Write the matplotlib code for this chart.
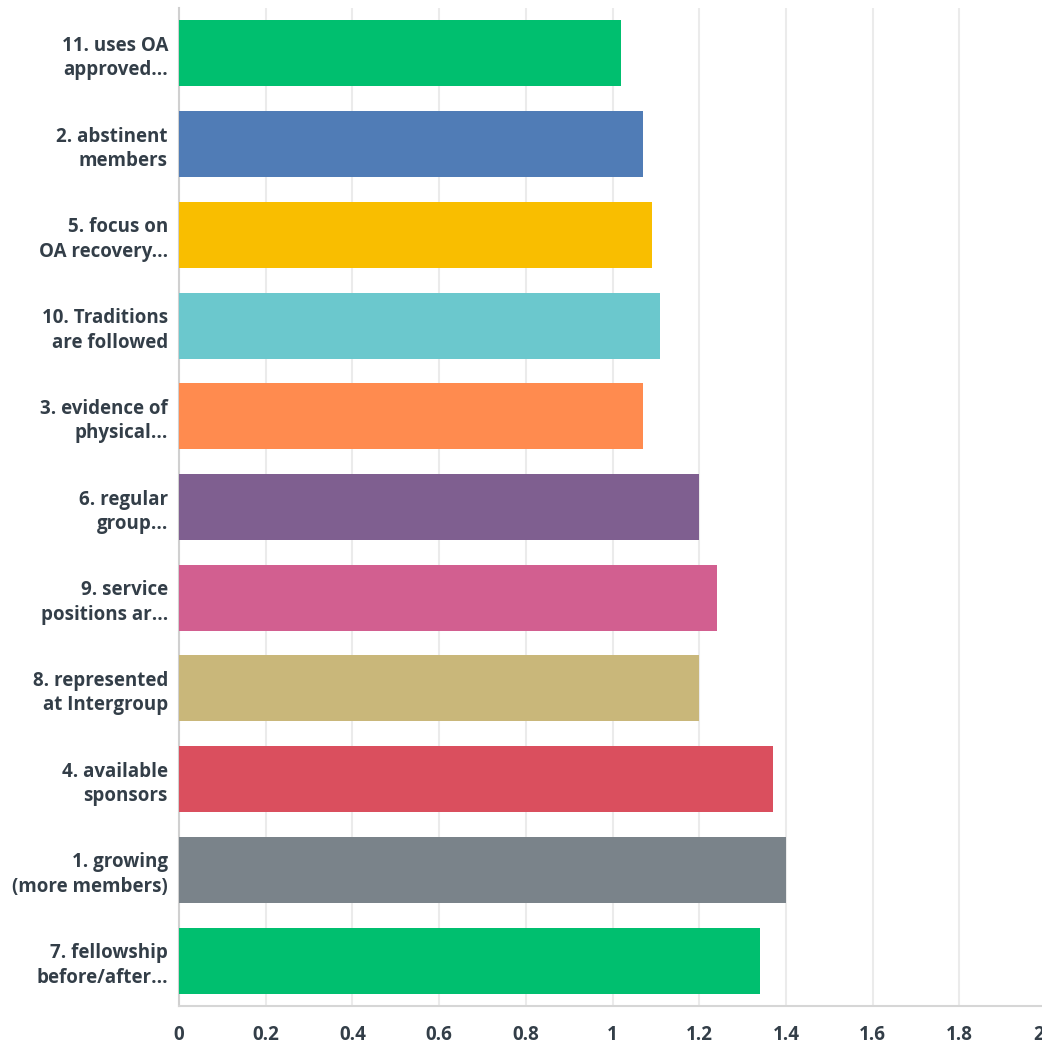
import matplotlib
matplotlib.use("Agg")
import matplotlib.pyplot as plt

categories = [
    "11. uses OA\napproved...",
    "2. abstinent\nmembers",
    "5. focus on\nOA recovery...",
    "10. Traditions\nare followed",
    "3. evidence of\nphysical...",
    "6. regular\ngroup...",
    "9. service\npositions ar...",
    "8. represented\nat Intergroup",
    "4. available\nsponsors",
    "1. growing\n(more members)",
    "7. fellowship\nbefore/after...",
]
values = [1.02, 1.07, 1.09, 1.11, 1.07, 1.20, 1.24, 1.20, 1.37, 1.40, 1.34]
colors = ["#00BF6F", "#507CB6", "#F9BE00", "#6BC8CD", "#FF8B4F", "#7F5F90",
          "#D25F90", "#C9B77A", "#DA4F5E", "#7A838A", "#00BF6F"]
xticks = [0, 0.2, 0.4, 0.6, 0.8, 1, 1.2, 1.4, 1.6, 1.8, 2]
xticklabels = ["0", "0.2", "0.4", "0.6", "0.8", "1", "1.2", "1.4", "1.6", "1.8", "2"]

text_color = "#333E48"
font = ["Open Sans", "DejaVu Sans"]
label_kw = dict(fontsize=13.5, fontweight="bold", color=text_color, family=font)

fig = plt.figure(figsize=(10.42, 10.46), dpi=100)
ax = fig.add_axes([179 / 1042, 1 - 1006 / 1046, 867 / 1042, 998 / 1046])

ypos = list(range(len(categories)))
ax.barh(ypos, values, height=0.728, color=colors, zorder=3)

ax.set_ylim(len(categories) - 0.5, -0.5)
ax.set_xlim(0, 2)
ax.set_xticks(xticks)
# the last label sits at the canvas edge, so it is drawn separately, right-aligned
ax.set_xticklabels(xticklabels[:-1] + [""], **label_kw)
ax.annotate(xticklabels[-1], xy=(xticks[-1], 0), xycoords=("data", "axes fraction"),
            xytext=(-2, -19.5), textcoords="offset pixels",
            ha="right", va="top", **label_kw)
ax.set_yticks(ypos)
ax.set_yticklabels(categories, linespacing=1.3, **label_kw)
for lbl in ax.get_yticklabels():
    lbl.set_horizontalalignment("right")

ax.tick_params(axis="both", length=0)
ax.tick_params(axis="x", pad=14)
ax.tick_params(axis="y", pad=8)

ax.grid(axis="x", color="#EBEBEB", linewidth=1.5, zorder=0)
ax.set_axisbelow(True)
for s in ["top", "right"]:
    ax.spines[s].set_visible(False)
ax.spines["left"].set_color("#D0D0D0")
ax.spines["left"].set_linewidth(1.5)
ax.spines["bottom"].set_color("#D6D6D6")
ax.spines["bottom"].set_linewidth(1.5)

fig.savefig("out.png", dpi=100)
